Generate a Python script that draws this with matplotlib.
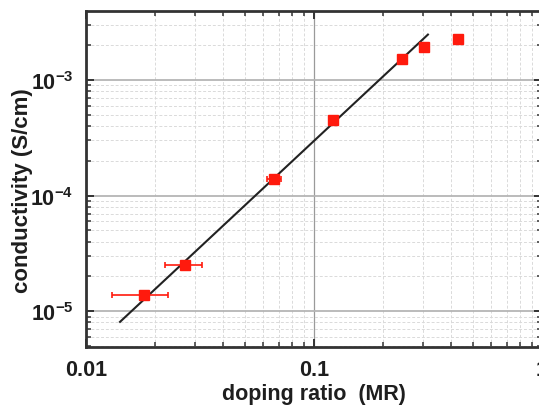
import matplotlib
matplotlib.use('Agg')
import matplotlib.pyplot as plt
from matplotlib.ticker import LogLocator, NullFormatter

plt.rcParams['font.family'] = ['Liberation Sans', 'DejaVu Sans']
plt.rcParams['font.weight'] = 'bold'
plt.rcParams['mathtext.fontset'] = 'custom'
plt.rcParams['mathtext.rm'] = 'Liberation Sans:bold'
plt.rcParams['mathtext.it'] = 'Liberation Sans:bold'
plt.rcParams['mathtext.bf'] = 'Liberation Sans:bold'
plt.rcParams['mathtext.default'] = 'rm'

# measured samples
doping = [0.018, 0.0272, 0.067, 0.1216, 0.243, 0.303, 0.427]
sigma = [1.38e-5, 2.53e-5, 1.40e-4, 4.5e-4, 1.52e-3, 1.94e-3, 2.27e-3]
doping_err = [0.005, 0.005, 0.005, 0.005, 0.005, 0.005, 0.005]

# power-law fit, end points
fit_x = [0.0141, 0.316]
fit_y = [8.1e-6, 2.47e-3]

txt = '#1e1e1e'
red = '#ff1a0d'

fig = plt.figure(figsize=(5.39, 4.10), dpi=100)
ax = fig.add_axes([86 / 539, 1 - 348 / 410, (542 - 86) / 539, (348 - 12) / 410])

ax.set_xscale('log')
ax.set_yscale('log')
ax.set_xlim(0.01, 1)
ax.set_ylim(4.91e-6, 3.95e-3)

# grid
ax.xaxis.set_minor_locator(LogLocator(base=10, subs=range(2, 10)))
ax.yaxis.set_minor_locator(LogLocator(base=10, subs=range(2, 10)))
ax.xaxis.set_minor_formatter(NullFormatter())
ax.yaxis.set_minor_formatter(NullFormatter())
ax.grid(which='minor', color='#dadada', linestyle=(0, (3, 2)), linewidth=0.7)
ax.grid(which='major', axis='y', color='#b5b5b5', linestyle='-', linewidth=1.3)
ax.grid(which='major', axis='x', color='#9a9a9a', linestyle='-', linewidth=0.9)
ax.set_axisbelow(True)

ax.plot(fit_x, fit_y, color='#222222', linewidth=1.5, zorder=3)
ax.errorbar(doping, sigma, xerr=doping_err, fmt='s', color=red, ecolor=red,
            markersize=7.5, elinewidth=1.2, capsize=2.5, capthick=1.2, zorder=4)

ax.set_xticks([0.01, 0.1, 1])
ax.set_xticklabels(['0.01', '0.1', '1'])
ax.set_yticks([1e-5, 1e-4, 1e-3])
ax.set_yticklabels([r'$10^{-5}$', r'$10^{-4}$', r'$10^{-3}$'])

ax.tick_params(which='both', direction='in', top=True, right=True, colors='#333333',
               labelcolor=txt, labelsize=15.5)
ax.tick_params(which='major', length=6, width=1.4, pad=9)
ax.tick_params(which='minor', length=3.5, width=1.1)

for side in ['left', 'bottom', 'top', 'right']:
    ax.spines[side].set_linewidth(2.0)
    ax.spines[side].set_color('#333333')

ax.set_xlabel('doping ratio  (MR)', fontsize=15.5, fontweight='bold', color=txt, labelpad=2)
ax.set_ylabel('conductivity (S/cm)', fontsize=16, fontweight='bold', color=txt)
ax.yaxis.set_label_coords(-0.116, 0.469)

fig.savefig('out.png', dpi=100)
